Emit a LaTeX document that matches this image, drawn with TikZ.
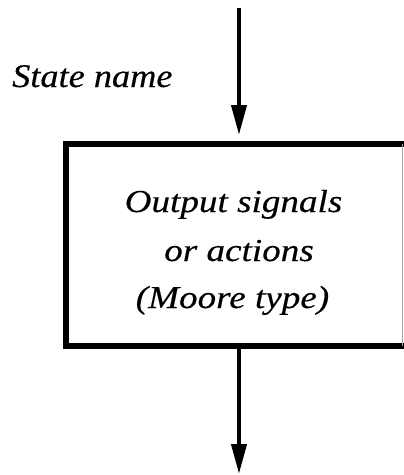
\documentclass[tikz,border=0pt]{standalone}
\usepackage{fontspec}
\usepackage{graphicx}
\setmainfont{Liberation Serif}
\newfontfamily\timesit[FakeBold=0.3]{Liberation Serif Italic}
\usetikzlibrary{arrows.meta,calc}
\tikzset{
  arr/.style={line width=4pt,-{Triangle[width=15pt,length=30pt]}},
  statebox/.style={draw,line width=6pt,rectangle,inner sep=0pt,minimum width=342pt,minimum height=202pt},
  lab/.style={inner sep=0pt,font=\timesit\fontsize{33}{38}\selectfont},
  body/.style={inner sep=0pt,anchor=base,font=\timesit\fontsize{32}{38}\selectfont}
}
\begin{document}
\begin{tikzpicture}[x=1pt,y=-1pt]
\useasboundingbox (0,0) rectangle (404,475);
\begin{scope}
\clip (0,0) rectangle (404,475);
\node[statebox] (box) at (237,245) {};
\end{scope}
\draw[gray!70,line width=1pt] (402,144) -- (402,346);
\coordinate (top) at (239,8);
\coordinate (bot) at (239,474);
\draw[arr,shorten >=6pt] (top) -- (top |- box.north);
\draw[arr] (box.south -| bot) -- (bot);
\node[lab,anchor=base west] (name) at (12,87) {\scalebox{1.1}[1]{State name}};
\node[body] (l1) at (233.5,212) {\scalebox{1.16}[1]{Output signals}};
\node[body] (l2) at (239,261) {\scalebox{1.16}[1]{or actions}};
\node[body] (l3) at (232.5,308) {\scalebox{1.16}[1]{(Moore type)}};
\end{tikzpicture}
\end{document}
